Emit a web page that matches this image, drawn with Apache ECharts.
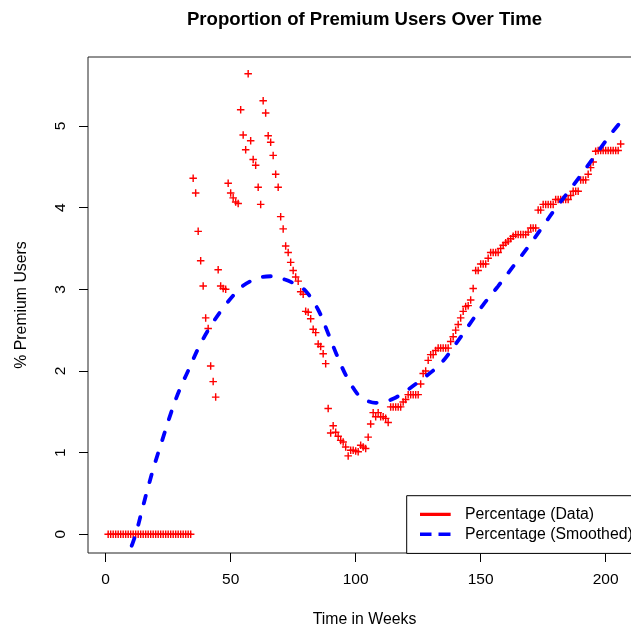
<!DOCTYPE html>
<html><head><meta charset="utf-8">
<script src="https://cdn.jsdelivr.net/npm/echarts@6/dist/echarts.min.js"></script>
<style>html,body{margin:0;padding:0;background:#fff}#c{width:631px;height:628px}</style>
</head><body><div id="c"></div>
<script>
// ---------- data ----------
const titleText = 'Proportion of Premium Users Over Time';
const xName = 'Time in Weeks';
const yName = '% Premium Users';
const seriesNames = ['Percentage (Data)', 'Percentage (Smoothed)'];
const xTicks = [0, 50, 100, 150, 200];
const yTicks = [0, 1, 2, 3, 4, 5];
const firstWeek = 1;
// weekly percentage, week 1 .. 206
const pct = [
  0,0,0,0,0,0,0,0,0,0,
  0,0,0,0,0,0,0,0,0,0,
  0,0,0,0,0,0,0,0,0,0,
  0,0,0,0,
  4.36,4.18,3.71,3.35,3.04,2.65,2.52,2.06,1.87,1.68,      // 35-44
  3.24,3.04,3.01,3.00,4.30,4.18,4.12,4.07,4.05,5.20,      // 45-54
  4.89,4.71,5.64,4.82,4.59,4.52,4.25,4.04,5.31,5.16,      // 55-64
  4.88,4.80,4.64,4.41,4.25,3.89,3.74,3.53,3.45,3.33,      // 65-74
  3.23,3.15,3.10,2.97,2.94,2.73,2.72,2.64,2.51,2.47,      // 75-84
  2.33,2.30,2.21,2.09,1.54,1.24,1.33,1.25,1.20,1.15,      // 85-94
  1.13,1.07,0.96,1.03,1.03,1.02,1.01,1.09,1.07,1.05,      // 95-104
  1.19,1.35,1.49,1.44,1.49,1.44,1.44,1.42,1.37,1.56,      // 105-114
  1.56,1.56,1.56,1.56,1.62,1.65,1.71,1.71,1.71,1.71,      // 115-124
  1.71,1.84,1.97,2.00,2.13,2.20,2.20,2.25,2.28,2.28,      // 125-134
  2.28,2.28,2.28,2.36,2.42,2.50,2.57,2.65,2.73,2.79,      // 135-144
  2.80,2.87,3.01,3.23,3.23,3.31,3.31,3.31,3.38,3.45,      // 145-154
  3.45,3.45,3.45,3.50,3.54,3.57,3.59,3.62,3.65,3.67,      // 155-164
  3.67,3.67,3.67,3.67,3.70,3.75,3.75,3.75,3.97,3.97,      // 165-174
  4.04,4.04,4.04,4.04,4.04,4.10,4.10,4.10,4.10,4.10,      // 175-184
  4.10,4.15,4.20,4.20,4.20,4.34,4.34,4.34,4.41,4.49,      // 185-194
  4.56,4.69,4.70,4.70,4.70,4.70,4.70,4.70,4.70,4.70,      // 195-204
  4.70,4.78                                               // 205-206
];
const smoothWeeks  = [8, 10, 12.2, 14.4, 17, 19.7, 22.4, 25.4, 28, 30.4, 33.4, 37.4, 42, 47.7, 54, 58, 62.4, 66.5, 71.7, 76, 80, 85, 89, 92.4, 96.4, 101.5, 105, 108, 111, 115, 119, 127, 134, 140, 145.3, 151, 157, 163, 169, 174.4, 179.7, 185.7, 191.3, 197, 202.8, 206];
const smoothValues = [-0.40, -0.18, 0.02, 0.28, 0.58, 0.87, 1.13, 1.42, 1.65, 1.83, 2.03, 2.30, 2.55, 2.80, 3.02, 3.10, 3.15, 3.16, 3.12, 3.06, 2.98, 2.75, 2.46, 2.20, 1.93, 1.69, 1.63, 1.61, 1.62, 1.66, 1.73, 1.91, 2.09, 2.33, 2.56, 2.81, 3.04, 3.28, 3.52, 3.75, 3.98, 4.22, 4.45, 4.69, 4.93, 5.05];

// ---------- chart ----------
const font = '"Liberation Sans", Arial, Helvetica, sans-serif';
const dataPoints = pct.map((v, i) => [firstWeek + i, v]);
const smoothPoints = smoothWeeks.map((w, i) => [w, smoothValues[i]]);
const plusPath = 'path://M-0.19,-1H0.19V-0.19H1V0.19H0.19V1H-0.19V0.19H-1V-0.19H-0.19Z';

const chart = echarts.init(document.getElementById('c'), null, {renderer: 'canvas'});
chart.setOption({
  animation: false,
  backgroundColor: '#ffffff',
  title: {
    text: titleText, left: 359.5, top: 5, textAlign: 'center',
    textStyle: {fontFamily: font, fontSize: 18.6, fontWeight: 'bold', color: '#000'}
  },
  grid: {left: 88, top: 57, width: 553, height: 496, show: true, borderColor: '#222', borderWidth: 1, containLabel: false, outerBoundsMode: 'none'},
  xAxis: {
    type: 'value', min: -7.07, max: 214.13,
    name: xName, nameLocation: 'middle', nameGap: 59, nameMoveOverlap: false,
    nameTextStyle: {fontFamily: font, fontSize: 15.8, color: '#000'},
    axisLine: {show: false, onZero: false},
    axisTick: {show: true, inside: false, length: 9, customValues: xTicks, lineStyle: {color: '#000', width: 1}},
    axisLabel: {customValues: xTicks, margin: 19, fontFamily: font, fontSize: 15.5, color: '#000'},
    splitLine: {show: false}
  },
  yAxis: {
    type: 'value', min: -0.229, max: 5.845,
    name: yName, nameLocation: 'middle', nameGap: 58, nameRotate: 90, nameMoveOverlap: false,
    nameTextStyle: {fontFamily: font, fontSize: 15.8, color: '#000'},
    axisLine: {show: false, onZero: false},
    axisTick: {show: true, inside: false, length: 9, customValues: yTicks, lineStyle: {color: '#000', width: 1}},
    axisLabel: {customValues: yTicks, rotate: 90, margin: 19, fontFamily: font, fontSize: 15.5, color: '#000'},
    splitLine: {show: false}
  },
  legend: {
    orient: 'vertical', left: 406.7, top: 495.7,
    padding: [10.7, 13, 11.1, 13.3],
    itemWidth: 40, itemHeight: 3.4, itemGap: 3.9,
    symbolKeepAspect: false, selectedMode: false,
    borderColor: '#000', borderWidth: 1, borderRadius: 0, backgroundColor: '#fff',
    itemStyle: {borderWidth: 0},
    textStyle: {fontFamily: font, fontSize: 15.8, color: '#000', lineHeight: 16},
    data: [
      {name: seriesNames[0], icon: 'path://M0,0H30.7V3.4H0Z M40,0', itemStyle: {color: '#ff0000', borderWidth: 0}},
      {name: seriesNames[1], icon: 'path://M0,0H11.5V3.4H0Z M18.5,0H30.5V3.4H18.5Z M40,0', itemStyle: {color: '#0000ff', borderWidth: 0}}
    ]
  },
  series: [
    {
      name: seriesNames[0], type: 'scatter', data: dataPoints,
      symbol: plusPath, symbolSize: 7.5,
      itemStyle: {color: '#ff0000', opacity: 1},
      clip: true
    },
    {
      name: seriesNames[1], type: 'line', data: smoothPoints,
      smooth: 0.35, showSymbol: false, symbol: 'none',
      lineStyle: {color: '#0000ff', width: 3.8, type: [8, 14], cap: 'round'},
      itemStyle: {color: '#0000ff'},
      clip: true
    }
  ]
});
</script>
</body></html>
